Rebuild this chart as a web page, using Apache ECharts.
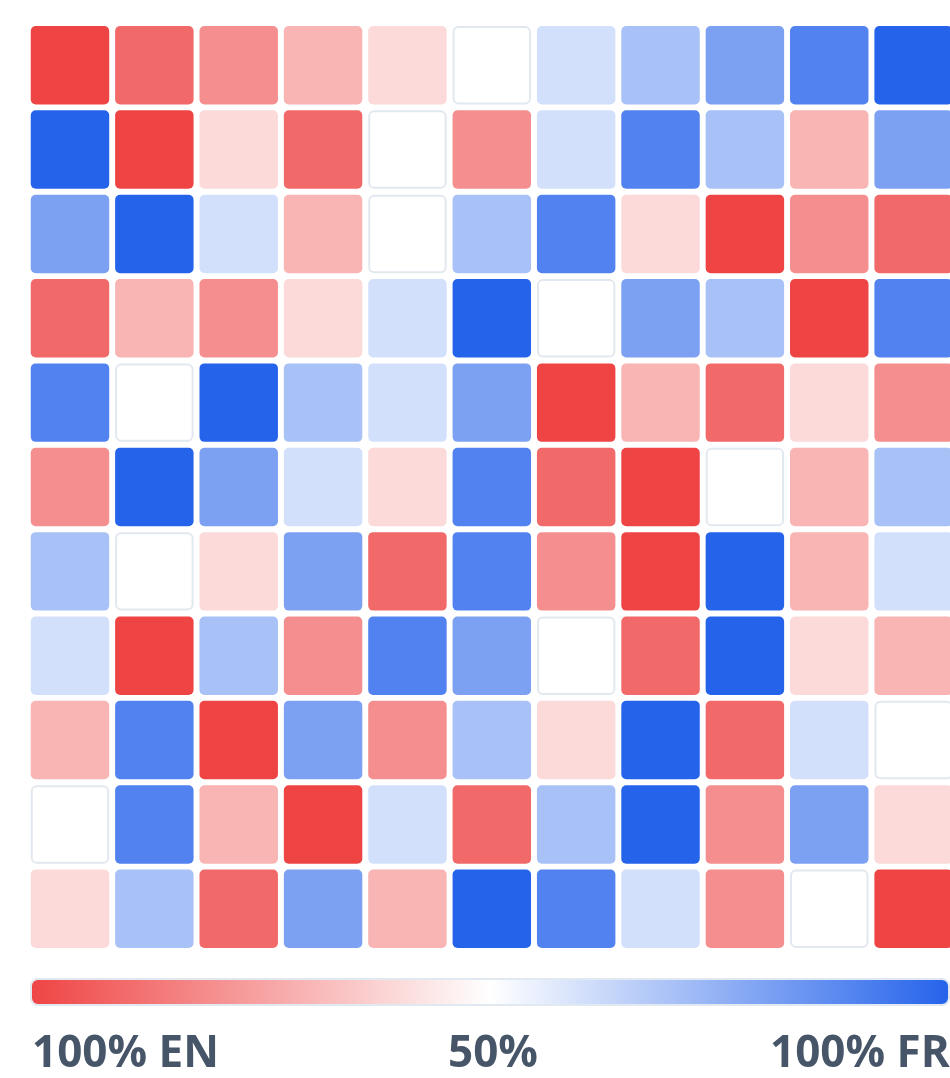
<!DOCTYPE html>
<html>
<head>
<meta charset="utf-8">
<script src="https://cdn.jsdelivr.net/npm/echarts@6/dist/echarts.min.js"></script>
<style>
html,body{margin:0;padding:0;background:#fff;}
#chart{width:950px;height:1078px;}
</style>
</head>
<body>
<div id="chart"></div>
<script>
// Share of French (%) per cell, rows top to bottom, columns left to right
const columns = ['1','2','3','4','5','6','7','8','9','10','11'];
const rows = ['1','2','3','4','5','6','7','8','9','10','11'];
const row1  = [0,10,20,30,40,50,60,70,80,90,100];
const row2  = [100,0,40,10,50,20,60,90,70,30,80];
const row3  = [80,100,60,30,50,70,90,40,0,20,10];
const row4  = [10,30,20,40,60,100,50,80,70,0,90];
const row5  = [90,50,100,70,60,80,0,30,10,40,20];
const row6  = [20,100,80,60,40,90,10,0,50,30,70];
const row7  = [70,50,40,80,10,90,20,0,100,30,60];
const row8  = [60,0,70,20,90,80,50,10,100,40,30];
const row9  = [30,90,0,80,20,70,40,100,10,60,50];
const row10 = [50,90,30,0,60,10,70,100,20,80,40];
const row11 = [40,70,10,80,30,100,90,60,20,50,0];
const scaleLabels = ['100% EN','50%','100% FR'];

const allRows = [row1,row2,row3,row4,row5,row6,row7,row8,row9,row10,row11];
const data = [];
allRows.forEach((r, ri) => r.forEach((v, ci) => data.push([ci, ri, v])));

const chart = echarts.init(document.getElementById('chart'), null, {renderer:'canvas'});
const GAP = 5.9;
chart.setOption({
  animation: false,
  grid: {left: 27.8, top: 23, width: 928, height: 928, outerBoundsMode: 'none', containLabel: false},
  xAxis: {type:'category', data: columns, show:false},
  yAxis: {type:'category', data: rows, inverse:true, show:false},
  visualMap: {
    show:false, type:'continuous', min:0, max:100, dimension:2,
    inRange:{color:['#ef4444','#ffffff','#2563eb']}
  },
  series: [{
    type:'custom',
    data: data,
    encode:{x:0, y:1},
    clip: false,
    renderItem: function(params, api){
      const c = api.coord([api.value(0), api.value(1)]);
      const s = api.size([1,1]);
      const w = s[0]-GAP, h = s[1]-GAP;
      const v = api.value(2);
      const white = v === 50;
      return {
        type:'rect',
        shape:{x:c[0]-w/2 + (white?1:0), y:c[1]-h/2 + (white?1:0), width:w-(white?2:0), height:h-(white?2:0), r:5},
        style:{fill: api.visual('color'), stroke: white ? '#e2e8f0' : null, lineWidth: white ? 2 : 0}
      };
    }
  }],
  graphic: [
    {type:'rect', shape:{x:31, y:979, width:918, height:26, r:7},
     style:{
       fill: new echarts.graphic.LinearGradient(0,0,1,0,[
         {offset:0,color:'#ef4444'},{offset:0.5,color:'#ffffff'},{offset:1,color:'#2563eb'}]),
       stroke:'#e2e8f0', lineWidth:2}},
    {type:'text', x:32, y:1054, style:{text:scaleLabels[0], fill:'#475569', font:'bold 44px "Open Sans"', textAlign:'left', textVerticalAlign:'middle'}},
    {type:'text', x:493, y:1054, style:{text:scaleLabels[1], fill:'#475569', font:'bold 44px "Open Sans"', textAlign:'center', textVerticalAlign:'middle'}},
    {type:'text', x:770, y:1054, style:{text:scaleLabels[2], fill:'#475569', font:'bold 44px "Open Sans"', textAlign:'left', textVerticalAlign:'middle'}}
  ]
});
</script>
</body>
</html>
